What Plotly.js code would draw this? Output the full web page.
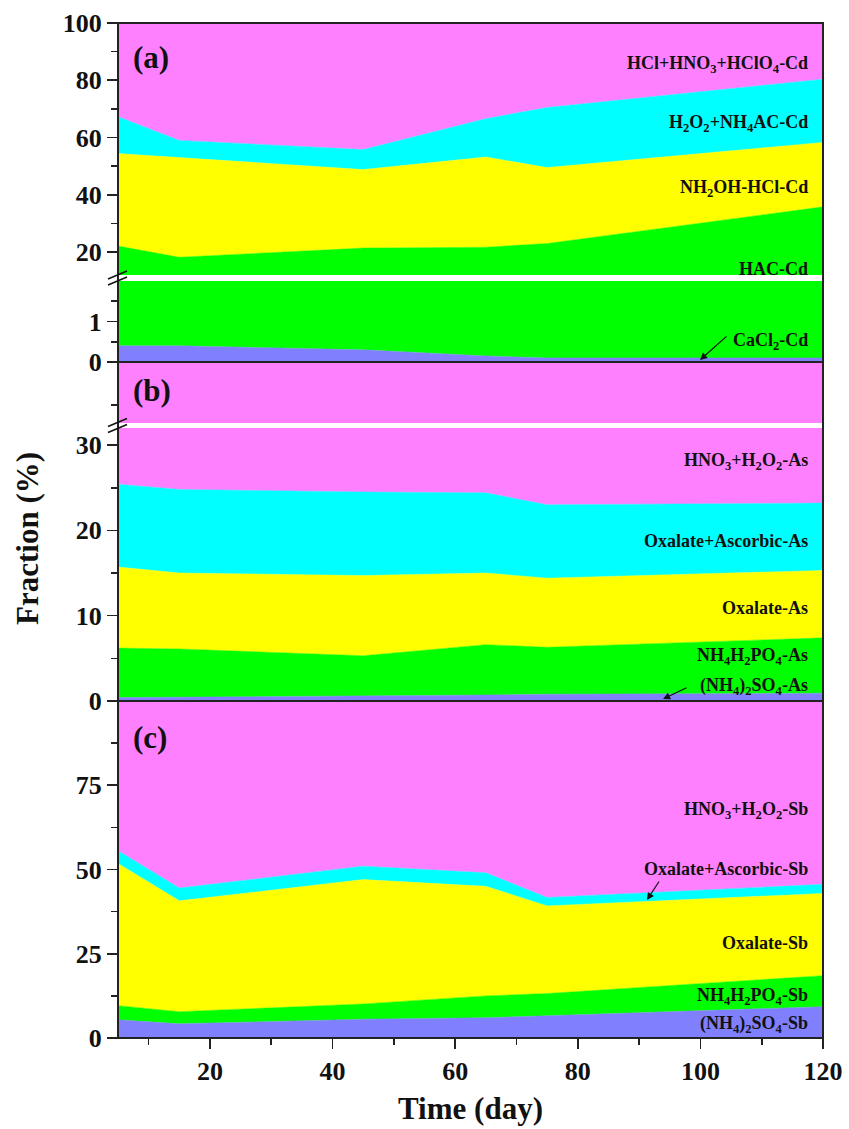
<!DOCTYPE html>
<html>
<head>
<meta charset="utf-8">
<script src="https://cdn.plot.ly/plotly-3.0.1.min.js"></script>
<style>html,body{margin:0;padding:0;background:#fff;}#chart{width:849px;height:1129px;}</style>
</head>
<body>
<div id="chart"></div>
<script>
// ---------- data ----------
const days = [5, 15, 45, 65, 75, 120];

// Panel (a): Cd fractions (%)
const cdCaCl2   = [0.4, 0.4, 0.3, 0.15, 0.1, 0.1];
const cdHAC     = [21.7, 17.8, 21.1, 21.55, 22.9, 35.7];
const cdNH2OH   = [32.3, 34.8, 27.4, 31.5, 26.5, 22.5];
const cdH2O2    = [12.9, 6.0, 7.0, 13.4, 21.0, 22.1];
const cdResid   = [32.7, 41.0, 44.2, 33.4, 29.5, 19.6];

// Panel (b): As fractions (%)
const asSulfate  = [0.4, 0.45, 0.55, 0.7, 0.8, 0.9];
const asPhos     = [5.8, 5.65, 4.75, 5.9, 5.5, 6.5];
const asOxalate  = [9.5, 8.9, 9.4, 8.4, 8.1, 7.9];
const asOxAsc    = [9.7, 9.8, 9.8, 9.4, 8.6, 7.9];
const asResid    = [74.6, 75.2, 75.5, 75.6, 77.0, 76.8];

// Panel (c): Sb fractions (%)
const sbSulfate  = [5.4, 4.2, 5.6, 6.0, 6.6, 9.3];
const sbPhos     = [4.2, 3.6, 4.5, 6.5, 6.6, 9.2];
const sbOxalate  = [42.2, 32.9, 36.9, 32.5, 26.0, 24.4];
const sbOxAsc    = [3.8, 3.8, 4.0, 4.0, 2.5, 2.7];
const sbResid    = [44.4, 55.5, 49.0, 51.0, 58.3, 54.4];

const cdLabels = ['CaCl<sub>2</sub>-Cd', 'HAC-Cd', 'NH<sub>2</sub>OH-HCl-Cd', 'H<sub>2</sub>O<sub>2</sub>+NH<sub>4</sub>AC-Cd', 'HCl+HNO<sub>3</sub>+HClO<sub>4</sub>-Cd'];
const asLabels = ['(NH<sub>4</sub>)<sub>2</sub>SO<sub>4</sub>-As', 'NH<sub>4</sub>H<sub>2</sub>PO<sub>4</sub>-As', 'Oxalate-As', 'Oxalate+Ascorbic-As', 'HNO<sub>3</sub>+H<sub>2</sub>O<sub>2</sub>-As'];
const sbLabels = ['(NH<sub>4</sub>)<sub>2</sub>SO<sub>4</sub>-Sb', 'NH<sub>4</sub>H<sub>2</sub>PO<sub>4</sub>-Sb', 'Oxalate-Sb', 'Oxalate+Ascorbic-Sb', 'HNO<sub>3</sub>+H<sub>2</sub>O<sub>2</sub>-Sb'];

const xTicks = [20, 40, 60, 80, 100, 120];

// ---------- styling ----------
const layerColors = ['#8080FF', '#00FF00', '#FFFF00', '#00FFFF', '#FF80FF'];
const serif = 'Liberation Serif, Times New Roman, serif';

// geometry helpers (pixel -> paper)
const W = 849, H = 1129, ML = 118, MR = 26, MT = 23, MB = 91;
const PW = W - ML - MR, PH = H - MT - MB;
const px = p => (p - ML) / PW;
const py = p => (H - MB - p) / PH;

const panels = [
  {series: [cdCaCl2, cdHAC, cdNH2OH, cdH2O2, cdResid], axes: ['y4', 'y5'], id: 'a'},
  {series: [asSulfate, asPhos, asOxalate, asOxAsc, asResid], axes: ['y2', 'y3'], id: 'b'},
  {series: [sbSulfate, sbPhos, sbOxalate, sbOxAsc, sbResid], axes: ['y'], id: 'c'}
];

const traces = [];
panels.forEach(p => {
  p.axes.forEach(ax => {
    p.series.forEach((vals, i) => {
      traces.push({
        x: days, y: vals, type: 'scatter', mode: 'lines',
        xaxis: 'x', yaxis: ax,
        stackgroup: p.id + ax,
        fillcolor: layerColors[i],
        line: {color: layerColors[i], width: 0.5},
        hoverinfo: 'skip', showlegend: false
      });
    });
  });
});

const tickFont = {family: serif, size: 26, color: '#111', weight: 'bold'};
function yax(domain, range, tickvals, minorvals, showLabels) {
  return {
    domain: domain, range: range, tickmode: 'array', tickvals: tickvals,
    ticks: 'outside', ticklen: 10, tickwidth: 1.6, tickcolor: '#222',
    showticklabels: showLabels, tickfont: tickFont,
    minor: {tickmode: 'array', tickvals: minorvals, ticks: 'outside', ticklen: 6, tickwidth: 1.6, tickcolor: '#222'},
    showgrid: false, zeroline: false, showline: false, anchor: 'x', fixedrange: true
  };
}

const layout = {
  width: W, height: H,
  margin: {l: ML, r: MR, t: MT, b: MB, pad: 0},
  paper_bgcolor: '#fff', plot_bgcolor: '#fff',
  showlegend: false,
  xaxis: {
    domain: [0, 1], range: [5, 120], anchor: 'y',
    tickmode: 'array', tickvals: xTicks,
    ticks: 'outside', ticklen: 10, tickwidth: 1.6, tickcolor: '#222',
    minor: {tickmode: 'array', tickvals: [10, 30, 50, 70, 90, 110], ticks: 'outside', ticklen: 6, tickwidth: 1.6, tickcolor: '#222'},
    tickfont: tickFont, showgrid: false, zeroline: false, showline: false
  },
  yaxis:  yax([0, py(701)], [0, 100], [0, 25, 50, 75], [12.5, 37.5, 62.5, 87.5], true),
  yaxis2: yax([py(701), py(428)], [0, 32], [0, 10, 20, 30], [5, 15, 25], true),
  yaxis3: yax([py(423), py(362)], [90, 100], [], [93], false),
  yaxis4: yax([py(362), py(281)], [0, 2], [0, 1], [0.5, 1.5], true),
  yaxis5: yax([py(275), 1], [12, 100], [20, 40, 60, 80, 100], [30, 50, 70, 90], true),
  shapes: [],
  annotations: []
};

// frames
const frameLine = {color: '#222', width: 2};
[[23, 362], [362, 701], [701, 1038]].forEach(([t, b]) => {
  layout.shapes.push({type: 'rect', xref: 'paper', yref: 'paper', x0: 0, x1: 1, y0: py(b), y1: py(t), line: frameLine, layer: 'above'});
});
// axis-break marks
[[278, 0], [423 + 4 - 278 + 278, 0]].forEach(() => {});
function breakMarks(cy) {
  [-3, 3].forEach(d => {
    layout.shapes.push({type: 'line', xref: 'paper', yref: 'paper',
      x0: px(108), y0: py(cy + d + 4), x1: px(127), y1: py(cy + d - 4),
      line: {color: '#111', width: 1.6}, layer: 'above'});
  });
}
breakMarks(278);
breakMarks(425.5);

// titles
const titleFont = {family: serif, size: 31, color: '#111', weight: 'bold'};
layout.annotations.push({xref: 'paper', yref: 'paper', x: px(27), y: py(539), text: 'Fraction (%)', textangle: -90, showarrow: false, font: titleFont, xanchor: 'center', yanchor: 'middle'});
layout.annotations.push({xref: 'paper', yref: 'paper', x: px(470), y: py(1108), text: 'Time (day)', showarrow: false, font: titleFont, xanchor: 'center', yanchor: 'middle'});

// panel letters
[['(a)', 57], ['(b)', 390], ['(c)', 737]].forEach(([t, y]) => {
  layout.annotations.push({xref: 'paper', yref: 'paper', x: px(131), y: py(y), text: t, showarrow: false, xanchor: 'left', yanchor: 'middle', font: {family: serif, size: 31, color: '#111', weight: 'bold'}});
});

// layer labels
const labFont = {family: serif, size: 18, color: '#111', weight: 'bold'};
const labelY = [
  [cdLabels, [338, 269, 185, 121, 62]],
  [asLabels, [683, 653, 608, 541, 458]],
  [sbLabels, [1021, 993, 943, 869, 807]]
];
labelY.forEach(([labs, ys]) => {
  labs.forEach((t, i) => {
    const hasSub = t.indexOf('<sub>') >= 0;
    layout.annotations.push({xref: 'paper', yref: 'paper', x: px(810), y: py(ys[i] + (hasSub ? 3 : 0)), text: t, showarrow: false, xanchor: 'right', yanchor: 'middle', font: labFont});
  });
});

// pointer arrows
[[700, 360, 28, -25], [663, 699, 25, -12], [647, 900, 13, -20]].forEach(([x, y, ax, ay]) => {
  layout.annotations.push({xref: 'paper', yref: 'paper', x: px(x), y: py(y), ax: ax, ay: ay, text: '', showarrow: true, arrowhead: 2, arrowsize: 1.2, arrowwidth: 1.2, arrowcolor: '#111'});
});

Plotly.newPlot('chart', traces, layout, {displayModeBar: false, staticPlot: true});
</script>
</body>
</html>
